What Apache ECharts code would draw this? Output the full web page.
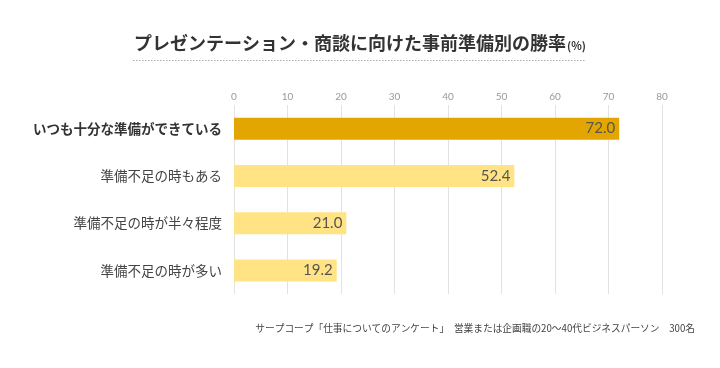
<!DOCTYPE html>
<html><head><meta charset="utf-8">
<script src="https://cdn.jsdelivr.net/npm/echarts@6/dist/echarts.min.js"></script>
<style>html,body{margin:0;padding:0;background:#fff}#c{width:720px;height:368px}</style>
</head><body><div id="c"></div>
<script>
const categories = ['いつも十分な準備ができている','準備不足の時もある','準備不足の時が半々程度','準備不足の時が多い'];
const values = [72.0, 52.4, 21.0, 19.2];
const barColors = ['#E3A600','#FFE385','#FFE385','#FFE385'];
const xTicks = [0, 80, 10];
const titleText = 'プレゼンテーション・商談に向けた事前準備別の勝率';
const titleUnit = '(%)';
const sourceText = 'サープコープ「仕事についてのアンケート」　営業または企画職の20〜40代ビジネスパーソン　300名';

const font = '"Noto Sans CJK JP", "Noto Sans", sans-serif';
const chart = echarts.init(document.getElementById('c'), null, {renderer:'canvas'});
const cats = categories.slice().reverse();
const vals = values.slice().reverse();
const cols = barColors.slice().reverse();
chart.setOption({
  backgroundColor:'#fff',
  animation:false,
  title:{
    text:'{t|'+titleText+'}{u|'+titleUnit+'}',
    left:'center', top:29,
    textStyle:{rich:{
      t:{fontFamily:font,fontSize:18,fontWeight:'bold',color:'#333'},
      u:{fontFamily:font,fontSize:11,fontWeight:'bold',color:'#333',padding:[5,0,0,1]}
    }}
  },
  graphic:[
    {type:'line',shape:{x1:133,y1:60.5,x2:585,y2:60.5},style:{stroke:'#aaa',lineWidth:1,lineDash:[1.5,1.5]}},
    {type:'text',right:25,top:323,style:{text:sourceText,font:'9.7px '+font,fill:'#444'}}
  ],
  grid:{left:234,right:58,top:105,bottom:74},
  xAxis:{
    type:'value', min:xTicks[0], max:xTicks[1], interval:xTicks[2], position:'top',
    axisLine:{show:false}, axisTick:{show:false},
    axisLabel:{color:'#999',fontSize:10,fontFamily:'Lato, sans-serif',margin:3},
    splitLine:{lineStyle:{color:'#e2e2e2',width:1}}
  },
  yAxis:{
    type:'category', data:cats,
    axisLine:{show:false}, axisTick:{show:false},
    axisLabel:{
      margin:12,fontSize:13.5,fontFamily:font,color:'#444',
      formatter:(v)=> v===categories[0] ? '{b|'+v+'}' : v,
      rich:{b:{fontSize:13.5,fontWeight:'bold',color:'#333',fontFamily:font}}
    }
  },
  series:[{
    type:'bar', barWidth:22,
    data: vals.map((v,i)=>({value:v,itemStyle:{color:cols[i]}})),
    label:{show:true,position:'insideRight',distance:4,
      formatter:(p)=>p.value.toFixed(1),
      fontSize:15,fontFamily:'Lato, sans-serif',color:'#555'}
  }]
});
</script></body></html>
